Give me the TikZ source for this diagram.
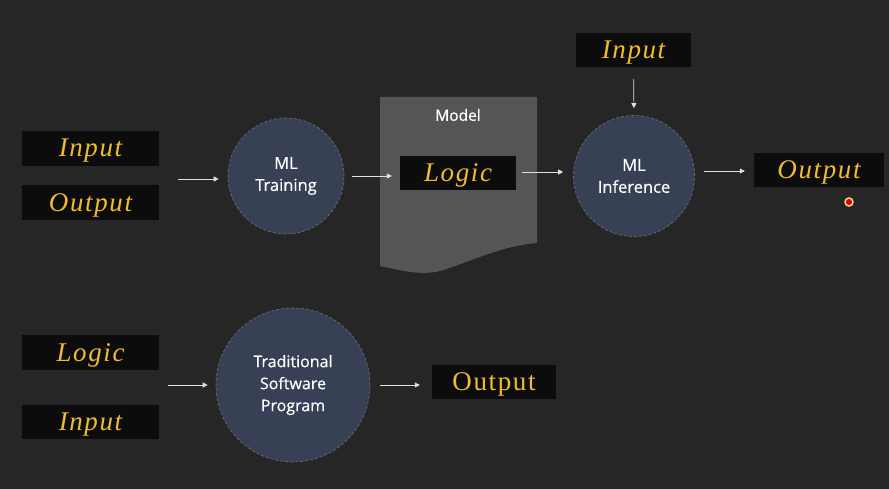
\documentclass[tikz,border=0pt]{standalone}
\usepackage{fontspec}
\setmainfont{Liberation Serif}
\newfontfamily\labfont[FakeBold=0.6]{Open Sans}
\newfontfamily\boxfont[LetterSpace=6]{Liberation Serif}
\usetikzlibrary{arrows.meta,calc}
\definecolor{bgc}{RGB}{38,38,38}
\definecolor{boxc}{RGB}{12,12,12}
\definecolor{ylw}{RGB}{240,188,45}
\definecolor{circc}{RGB}{55,64,84}
\definecolor{circb}{RGB}{110,112,122}
\definecolor{modelc}{RGB}{85,85,85}
\definecolor{arrc}{RGB}{225,225,215}
\tikzset{
  tbox/.style={fill=boxc, draw=none, inner sep=0pt, minimum height=35pt, text=ylw,
     text height=20pt, text depth=3pt,
     font=\boxfont\fontsize{27}{30}\selectfont\itshape},
  ubox/.style={tbox, font=\boxfont\fontsize{27}{30}\selectfont},
  proc/.style={circle, fill=circc, draw=circb, densely dashed, line width=0.6pt, text=white,
     align=center, inner sep=0pt, font=\labfont\fontsize{16.5}{22}\selectfont},
  flow/.style={draw=arrc, line width=0.7pt, -{Triangle[length=5pt,width=5pt]}},
}
\begin{document}
\begin{tikzpicture}[x=1pt,y=-1pt]
\fill[bgc] (0,0) rectangle (889,489);
\useasboundingbox (0,0) rectangle (889,489);

% top row
\node[tbox, minimum width=137pt] (in1) at (90.5,148.5) {Input};
\node[tbox, minimum width=137pt] (out1) at (90.5,203) {Output};
\coordinate (g1) at (159,179);
\node[proc, minimum size=116pt] (train) at (286,176) {ML\\Training};

% model document shape
\fill[modelc] (380,97) -- (537,97) -- (537,243)
  .. controls (500,246) and (470,262) .. (440,271)
  .. controls (420,276) and (400,270) .. (380,266) -- cycle;
\node[text=white, font=\labfont\fontsize{15.5}{18}\selectfont] (model) at (458,115) {Model};
\node[tbox, minimum width=116pt, minimum height=34pt] (logic1) at (458,173) {Logic};

\node[proc, minimum size=121pt] (infer) at (634,176) {ML\\Inference};
\node[tbox, minimum width=115pt, minimum height=34pt] (in2) at (633.5,50) {Input};
\node[tbox, minimum width=130pt, minimum height=34pt] (out2) at (819,170) {Output};
\node[circle, fill=red!85!black, draw=ylw!60!white, line width=1.5pt, inner sep=0pt, minimum size=8pt] (dot) at (849,202) {};

\draw[flow, shorten <=19pt, shorten >=9pt] (g1) -- (g1 -| train.west);
\draw[flow, shorten <=8pt, shorten >=8pt] (train.east |- 0,176) -- (logic1.west |- 0,176);
\draw[flow, shorten <=6pt, shorten >=10pt] (logic1.east |- 0,172) -- (infer.west |- 0,172);
\draw[flow, shorten <=12pt, shorten >=7pt] (in2.south) -- (infer.north);
\draw[flow, shorten <=9pt, shorten >=9pt] (infer.east |- 0,171) -- (out2.west |- 0,171);

% bottom row
\node[tbox, minimum width=137pt] (logic2) at (90.5,352.5) {Logic};
\node[tbox, minimum width=137pt, minimum height=34pt] (in3) at (90.5,422) {Input};
\coordinate (g2) at (159,385);
\node[proc, minimum size=154pt, font=\labfont\fontsize{16}{22}\selectfont] (trad) at (293,385) {Traditional\\Software\\Program};
\node[ubox, minimum width=124pt, minimum height=34pt] (out3) at (494,382) {Output};

\draw[flow, shorten <=9pt, shorten >=8pt] (g2) -- (g2 -| trad.west);
\draw[flow, shorten <=10pt, shorten >=12pt] (trad.east |- 0,385) -- (out3.west |- 0,385);
\end{tikzpicture}
\end{document}
